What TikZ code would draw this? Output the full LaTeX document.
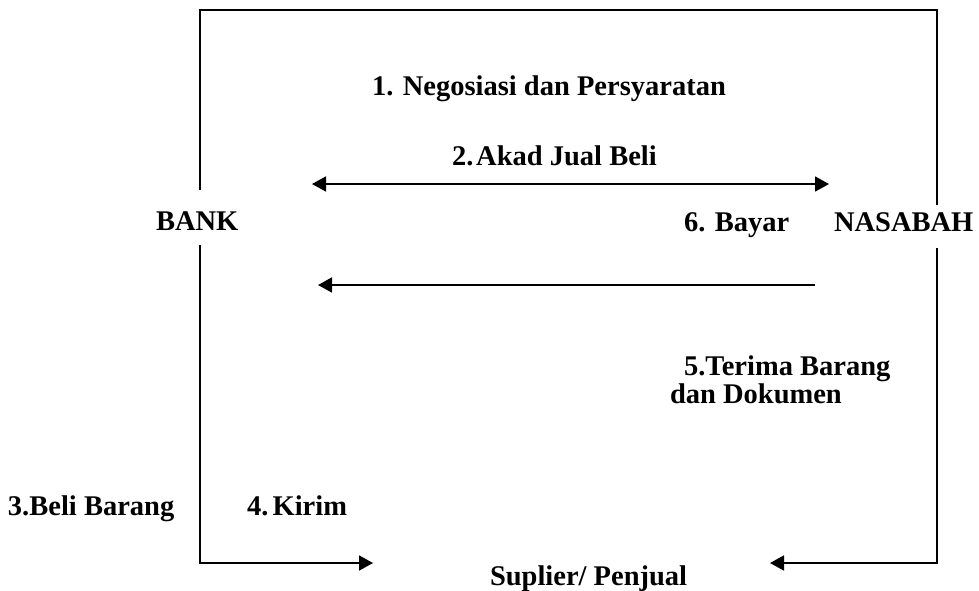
\documentclass[tikz,border=0pt]{standalone}
\usepackage{fontspec}
\setmainfont{Liberation Serif}
\usetikzlibrary{arrows.meta}
\begin{document}
\begin{tikzpicture}[x=1pt,y=-1pt,
  lbl/.style={anchor=base west,inner sep=0pt,outer sep=0pt,
    font=\fontsize{28.5}{34}\selectfont\bfseries},
  flow/.style={line width=1.8pt},
  head/.style={-{Triangle[length=14pt,width=15pt]}}]
\useasboundingbox (0,0) rectangle (979,590);

% labels
\node[lbl] (neg)   at (372,95)  {1. Negosiasi dan Persyaratan};
\node[lbl] (akad)  at (452,165) {2.\hspace{0.1em}Akad Jual Beli};
\node[lbl] (bank)  at (156,230) {BANK};
\node[lbl] (bayar) at (684,231) {6. Bayar};
\node[lbl] (nas)   at (834,231) {NASABAH};
\node[lbl] (ter1)  at (684,375) {5.Terima Barang};
\node[lbl] (ter2)  at (670,403) {dan Dokumen};
\node[lbl] (beli)  at (8,515)   {3.Beli Barang};
\node[lbl] (kirim) at (247,515) {4.\hspace{0.15em}Kirim};
\node[lbl] (sup)   at (490,585) {Suplier/ Penjual};

% frame corners and break points
\coordinate (tl) at (200,10);
\coordinate (tr) at (937,10);
\coordinate (lu) at (200,190);
\coordinate (ru) at (937,205);
\coordinate (ll) at (200,245);
\coordinate (rl) at (937,248);
\coordinate (bl) at (200,563);
\coordinate (br) at (937,563);
\coordinate (bltip) at (373,563);
\coordinate (brtip) at (770,563);

% top frame
\draw[flow] (lu) -- (tl) -- (tr) -- (ru);
% lower legs to the supplier
\draw[flow,head] (ll) -- (bl) -- (bltip);
\draw[flow,head] (rl) -- (br) -- (brtip);

% contract and payment arrows
\coordinate (a1) at (312,184);
\coordinate (a2) at (829,184);
\draw[flow,{Triangle[length=14pt,width=15pt]}-{Triangle[length=14pt,width=15pt]}] (a1) -- (a2);
\coordinate (p1) at (815,285);
\coordinate (p2) at (318,285);
\draw[flow,head] (p1) -- (p2);
\end{tikzpicture}
\end{document}
